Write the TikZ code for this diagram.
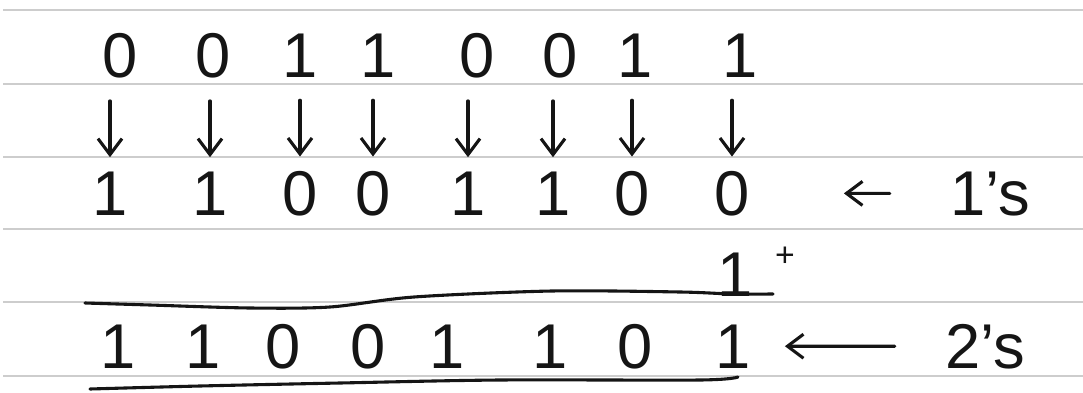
\documentclass[tikz,border=0pt]{standalone}
\usepackage{fontspec}
\setmainfont{Liberation Sans}
\usetikzlibrary{arrows.meta,positioning}
\definecolor{paperRule}{HTML}{CDCDCD}
\definecolor{penInk}{HTML}{151515}

\begin{document}
\begin{tikzpicture}[
        x=0.025cm, y=-0.025cm,
        digit/.style={
            anchor=base,
            inner sep=0pt,
            text=penInk,
            font=\fontsize{45}{50}\selectfont
        },
        rule/.style={
            draw=paperRule,
            line width=1.5pt
        },
        pen/.style={
            draw=penInk,
            line width=2.2pt,
            line cap=round
        },
        arrow/.style={
            pen,
            -{Straight Barb[length=4mm,width=6mm]}
        }
    ]
    \useasboundingbox (0,0) rectangle (1083,393);

    % ruled paper
    \foreach \ry in {10,84,157,229,302,376}
        \draw[rule] (3,\ry) -- (1083,\ry);

    % number
    \node[digit] (t1) at (120,78) {0};
    \node[digit] (t2) at (213,78) {0};
    \node[digit] (t3) at (300,78) {1};
    \node[digit] (t4) at (378,78) {1};
    \node[digit] (t5) at (477,78) {0};
    \node[digit] (t6) at (560,78) {0};
    \node[digit] (t7) at (635,78) {1};
    \node[digit] (t8) at (740,78) {1};

    % inverted bits
    \node[digit] (b1) at (110,215) {1};
    \node[digit] (b2) at (210,215) {1};
    \node[digit] (b3) at (300,215) {0};
    \node[digit] (b4) at (373,215) {0};
    \node[digit] (b5) at (468,215) {1};
    \node[digit] (b6) at (553,215) {1};
    \node[digit] (b7) at (632,215) {0};
    \node[digit] (b8) at (732,215) {0};
    \node[digit] (ones) at (990,215) {1's};

    \draw[arrow, shorten <=0.55cm, shorten >=0.35cm] (b1.north |- t1.south) -- (b1.north);
    \draw[arrow, shorten <=0.55cm, shorten >=0.35cm] (b2.north |- t2.south) -- (b2.north);
    \draw[arrow, shorten <=0.55cm, shorten >=0.35cm] (b3.north |- t3.south) -- (b3.north);
    \draw[arrow, shorten <=0.55cm, shorten >=0.35cm] (b4.north |- t4.south) -- (b4.north);
    \draw[arrow, shorten <=0.55cm, shorten >=0.35cm] (b5.north |- t5.south) -- (b5.north);
    \draw[arrow, shorten <=0.55cm, shorten >=0.35cm] (b6.north |- t6.south) -- (b6.north);
    \draw[arrow, shorten <=0.55cm, shorten >=0.35cm] (b7.north |- t7.south) -- (b7.north);
    \draw[arrow, shorten <=0.55cm, shorten >=0.35cm] (b8.north |- t8.south) -- (b8.north);
    \draw[arrow, shorten <=1.5cm, shorten >=2.35cm] (ones.west) -- (b8.east);

    % add one
    \node[digit] (carry) at (735,296) {1};
    \node[digit, font=\fontsize{24}{26}\selectfont] (plus) at (785,266) {+};
    \draw[pen] plot[smooth] coordinates {(85,303) (150,305) (250,308) (330,307) (414,297) (552,291) (680,292) (732,294) (773,294)};

    % result
    \node[digit] (s1) at (118,368) {1};
    \node[digit] (s2) at (203,368) {1};
    \node[digit] (s3) at (283,368) {0};
    \node[digit] (s4) at (368,368) {0};
    \node[digit] (s5) at (447,368) {1};
    \node[digit] (s6) at (550,368) {1};
    \node[digit] (s7) at (635,368) {0};
    \node[digit] (s8) at (733,368) {1};
    \node[digit] (twos) at (985,368) {2's};

    \draw[arrow, shorten <=1.25cm, shorten >=0.85cm] (twos.west) -- (s8.east);
    \draw[pen] plot[smooth] coordinates {(90,389) (200,386) (340,383) (500,380) (700,380) (738,377)};

\end{tikzpicture}
\end{document}
